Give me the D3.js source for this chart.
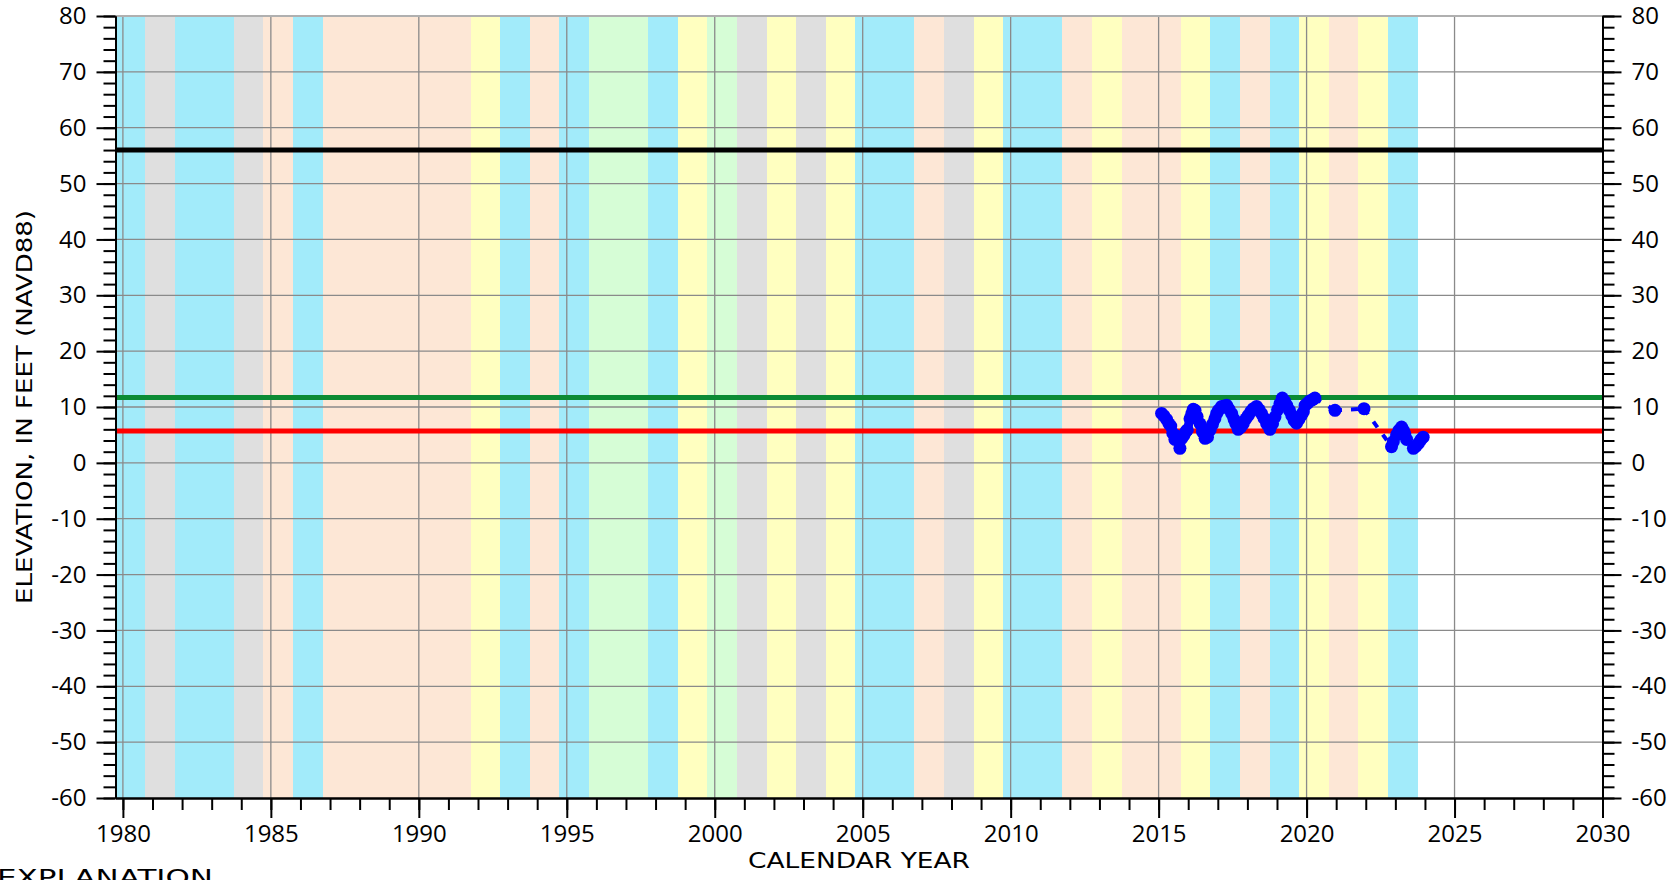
<!DOCTYPE html>
<html><head><meta charset="utf-8">
<script src="https://cdn.jsdelivr.net/npm/d3@7"></script>
<style>body{margin:0;background:#fff;overflow:hidden} svg{display:block}</style>
</head><body>
<svg id="chart" width="1670" height="880"></svg>
<script>
// ---- DATA ----
const waterYears = [1980,1981,1982,1983,1984,1985,1986,1987,1988,1989,1990,1991,1992,1993,1994,1995,1996,1997,1998,1999,2000,2001,2002,2003,2004,2005,2006,2007,2008,2009,2010,2011,2012,2013,2014,2015,2016,2017,2018,2019,2020,2021,2022,2023];
const waterYearTypes = ["W","C","W","W","C","D","W","D","D","D","D","D","BN","W","D","W","AN","AN","W","BN","AN","C","BN","C","BN","W","W","D","C","BN","W","W","D","BN","D","D","BN","W","D","W","BN","D","BN","W"];
const typeCodes = ["W","AN","BN","D","C"];
const typeColors = ["#a2ebfa","#d6fdd6","#ffffc0","#fde7d6","#dfdfdf"];

const obsYear = [2015.10,2015.18,2015.27,2015.35,2015.41,2015.48,2015.55,2015.60,2015.66,2015.72,2015.78,2015.85,2015.92,2015.97,
  2016.06,2016.12,2016.17,2016.23,2016.30,2016.40,2016.48,2016.57,2016.65,2016.74,2016.82,2016.90,2016.96,
  2017.02,2017.13,2017.22,2017.30,2017.38,2017.47,2017.55,2017.61,2017.69,2017.78,2017.86,2017.95,
  2018.03,2018.12,2018.20,2018.31,2018.40,2018.48,2018.56,2018.65,2018.76,2018.85,2018.93,
  2019.02,2019.10,2019.18,2019.26,2019.33,2019.42,2019.50,2019.58,2019.66,2019.74,2019.82,2019.89,2019.95,
  2020.04,2020.12,2020.20,2020.28,2020.96,2021.94,2022.87,2022.93,2023.04,2023.12,2023.21,2023.27,2023.32,2023.38,
  2023.61,2023.70,2023.78,2023.86,2023.94];
const obsElev = [8.85,8.4,7.8,7.0,6.6,5.3,4.2,4.8,4.5,2.6,4.4,4.9,5.6,5.9,
  7.9,8.8,9.6,9.4,8.3,7.0,5.6,4.4,4.6,5.9,6.9,7.9,8.8,
  9.4,10.1,10.2,10.3,9.6,8.8,7.8,7.0,6.0,6.4,7.0,7.9,
  8.5,9.2,9.7,10.1,9.5,8.8,8.0,7.0,6.0,7.0,8.2,
  9.5,10.6,11.6,11.0,10.3,9.4,8.5,7.6,7.1,7.8,8.5,9.1,10.3,
  10.7,11.1,11.3,11.6,9.4,9.7,2.9,3.8,5.0,5.8,6.4,5.8,5.2,4.2,
  2.6,3.0,3.5,4.1,4.6];

const refLevels = [56, 11.7, 5.7];
const refColors = ["#000000","#0b8b34","#ff0000"];

const xMajorTicks = [1980,1985,1990,1995,2000,2005,2010,2015,2020,2025,2030];
const xMinorTicks = [1980,1981,1982,1983,1984,1985,1986,1987,1988,1989,1990,1991,1992,1993,1994,1995,1996,1997,1998,1999,2000,2001,2002,2003,2004,2005,2006,2007,2008,2009,2010,2011,2012,2013,2014,2015,2016,2017,2018,2019,2020,2021,2022,2023,2024,2025,2026,2027,2028,2029,2030];
const yMajorTicks = [80,70,60,50,40,30,20,10,0,-10,-20,-30,-40,-50,-60];
const yMinorTicks = [80,78,76,74,72,70,68,66,64,62,60,58,56,54,52,50,48,46,44,42,40,38,36,34,32,30,28,26,24,22,20,18,16,14,12,10,8,6,4,2,0,-2,-4,-6,-8,-10,-12,-14,-16,-18,-20,-22,-24,-26,-28,-30,-32,-34,-36,-38,-40,-42,-44,-46,-48,-50,-52,-54,-56,-58,-60];
const xGrid = [1980,1985,1990,1995,2000,2005,2010,2015,2020,2025];
const yGrid = [70,60,50,40,30,20,10,0,-10,-20,-30,-40,-50];

// ---- DRAW ----
const svg = d3.select("#chart");
const x = d3.scaleLinear().domain([1979.75, 2030]).range([115.5, 1602.5]);
const y = d3.scaleLinear().domain([-60, 80]).range([798, 16]);
const color = d3.scaleOrdinal().domain(typeCodes).range(typeColors);

svg.append("g").selectAll("rect").data(waterYears).join("rect")
  .attr("x", d => x(d - 0.25))
  .attr("width", d => x(d + 0.75) - x(d - 0.25))
  .attr("y", y(80)).attr("height", y(-60) - y(80))
  .attr("fill", (d, i) => color(waterYearTypes[i]))
  .attr("shape-rendering", "crispEdges");

const grid = svg.append("g").attr("stroke", "#8a8a8a").attr("stroke-width", 1.3);
grid.selectAll(".vg").data(xGrid).join("line").attr("class","vg")
  .attr("x1", d => x(d)).attr("x2", d => x(d)).attr("y1", y(80)).attr("y2", y(-60));
grid.selectAll(".hg").data(yGrid).join("line").attr("class","hg")
  .attr("y1", d => y(d)).attr("y2", d => y(d)).attr("x1", x(1979.75)).attr("x2", x(2030));
svg.append("line").attr("x1", x(1979.75)).attr("x2", x(2030)).attr("y1", y(80)).attr("y2", y(80))
  .attr("stroke", "#b0b0b0").attr("stroke-width", 2);

svg.append("g").selectAll("line").data(refLevels).join("line")
  .attr("x1", x(1979.75)).attr("x2", x(2030))
  .attr("y1", d => y(d)).attr("y2", d => y(d))
  .attr("stroke", (d, i) => refColors[i]).attr("stroke-width", 5);

// observations
const pts = obsYear.map((t, i) => ({t, v: obsElev[i]}));
const segs = [];
for (let i = 1; i < pts.length; i++) segs.push({a: pts[i-1], b: pts[i], gap: pts[i].t - pts[i-1].t > 0.15});
svg.append("g").selectAll("line").data(segs).join("line")
  .attr("x1", d => x(d.a.t)).attr("y1", d => y(d.a.v))
  .attr("x2", d => x(d.b.t)).attr("y2", d => y(d.b.v))
  .attr("stroke", "#0000ff")
  .attr("stroke-width", d => d.gap ? 4 : 9)
  .attr("stroke-linecap", d => d.gap ? "butt" : "round")
  .attr("stroke-dasharray", d => d.gap ? "7,9" : null);
svg.append("g").selectAll("circle").data(pts).join("circle")
  .attr("cx", d => x(d.t)).attr("cy", d => y(d.v)).attr("r", 6.5)
  .attr("fill", "#0000ff");

// axes
function styleAxis(g) {
  g.select(".domain").attr("stroke", "#000").attr("stroke-width", 2);
  g.selectAll(".tick line").attr("stroke", "#000").attr("stroke-width", 2);
  g.selectAll("text").attr("font-family", "'Open Sans', sans-serif").attr("font-size", 24).attr("fill", "#000");
}
const fmt = d => String(d);
svg.append("g").attr("transform", `translate(0,${y(-60)})`)
  .call(d3.axisBottom(x).tickValues(xMinorTicks).tickSize(12).tickFormat("").tickSizeOuter(0)).call(styleAxis);
svg.append("g").attr("transform", `translate(0,${y(-60)})`)
  .call(d3.axisBottom(x).tickValues(xMajorTicks).tickSize(20).tickPadding(7).tickFormat(fmt).tickSizeOuter(0)).call(styleAxis);
svg.append("g").attr("transform", `translate(${x(1979.75)},0)`)
  .call(d3.axisLeft(y).tickValues(yMinorTicks).tickSize(12).tickFormat("").tickSizeOuter(0)).call(styleAxis);
svg.append("g").attr("transform", `translate(${x(1979.75)},0)`)
  .call(d3.axisLeft(y).tickValues(yMajorTicks).tickSize(19).tickPadding(10).tickFormat(fmt).tickSizeOuter(0)).call(styleAxis);
svg.append("g").attr("transform", `translate(${x(2030)},0)`)
  .call(d3.axisRight(y).tickValues(yMinorTicks).tickSize(12).tickFormat("").tickSizeOuter(0)).call(styleAxis);
svg.append("g").attr("transform", `translate(${x(2030)},0)`)
  .call(d3.axisRight(y).tickValues(yMajorTicks).tickSize(19).tickPadding(10).tickFormat(fmt).tickSizeOuter(0)).call(styleAxis);

// titles
svg.append("text").attr("x", (x(1979.75) + x(2030)) / 2).attr("y", 868)
  .attr("text-anchor", "middle").attr("font-family", "'DejaVu Sans', sans-serif").attr("font-size", 21)
  .attr("textLength", 222).attr("lengthAdjust", "spacingAndGlyphs").text("CALENDAR YEAR");
svg.append("text").attr("transform", `translate(32,${(y(80) + y(-60)) / 2}) rotate(-90)`)
  .attr("text-anchor", "middle").attr("font-family", "'DejaVu Sans', sans-serif").attr("font-size", 21)
  .attr("textLength", 394).attr("lengthAdjust", "spacingAndGlyphs").text("ELEVATION, IN FEET (NAVD88)");
svg.append("text").attr("x", -3).attr("y", 885)
  .attr("font-family", "'DejaVu Sans', sans-serif").attr("font-size", 22)
  .attr("textLength", 216).attr("lengthAdjust", "spacingAndGlyphs").text("EXPLANATION");
</script>
</body></html>
